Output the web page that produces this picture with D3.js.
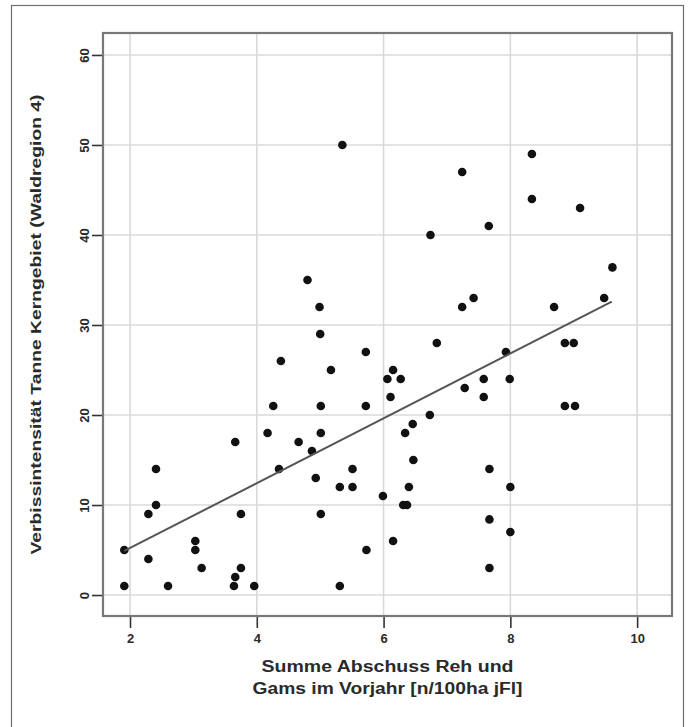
<!DOCTYPE html>
<html>
<head>
<meta charset="utf-8">
<script src="https://cdn.jsdelivr.net/npm/d3@7"></script>
<style>
  body { margin: 0; background: #fff; }
  text { font-family: "Liberation Sans", Arial, sans-serif; font-weight: bold; fill: #2a2a2a; }
</style>
</head>
<body>
<div id="chart"></div>
<script>
// Abschuss (x) und Verbissintensität (y)
var abschuss = [
	4.26, 4.17, 3.66, 4.66, 4.35, 2.41, 2.41, 2.29, 3.75, 1.91,
	3.03, 3.03, 2.29, 3.13, 3.75, 3.66, 1.91, 2.60, 3.64, 3.96,
	5.17, 6.06, 6.27, 6.15, 6.11, 5.72, 5.72, 6.84, 5.01, 6.73,
	6.46, 6.34, 5.01, 4.87, 6.47, 5.51, 4.93, 5.31, 5.51, 6.40,
	5.99, 6.31, 6.37, 5.01, 6.15, 5.73, 5.31, 7.67, 7.67, 7.67,
	7.28, 7.58, 7.58, 7.99, 8.86, 9.02, 8.00, 8.00, 5.35, 6.74,
	4.80, 4.99, 5.00, 4.38, 8.34, 7.24, 8.34, 9.10, 7.66, 9.61,
	9.48, 8.69, 7.42, 7.24, 8.86, 9.00, 7.93
];
var verbiss = [
	21, 18, 17, 17, 14, 14, 10, 9, 9, 5,
	6, 5, 4, 3, 3, 2, 1, 1, 1, 1,
	25, 24, 24, 25, 22, 27, 21, 28, 21, 20,
	19, 18, 18, 16, 15, 14, 13, 12, 12, 12,
	11, 10, 10, 9, 6, 5, 1, 14, 8.4, 3,
	23, 24, 22, 24, 21, 21, 12, 7, 50, 40,
	35, 32, 29, 26, 49, 47, 44, 43, 41, 36.4,
	33, 32, 33, 32, 28, 28, 27
];

// Regressionsgerade (Endpunkte)
var fitX = [1.91, 9.60];
var fitY = [4.9, 32.6];

var xTicks = [2, 4, 6, 8, 10];
var yTicks = [0, 10, 20, 30, 40, 50, 60];

var xTitle = ["Summe Abschuss Reh und", "Gams im Vorjahr [n/100ha jFl]"];
var yTitle = "Verbissintensität Tanne Kerngebiet (Waldregion 4)";

var width = 694,
	height = 727,
	panel = { left: 103, top: 33, right: 672, bottom: 616 };

var svg = d3.select("#chart")
	.append("svg")
	.attr("width", width)
	.attr("height", height);

// äußerer Rahmen
svg.append("rect")
	.attr("x", 11.5)
	.attr("y", 5.5)
	.attr("width", 672)
	.attr("height", 760)
	.style("fill", "none")
	.style("stroke", "#6e6e6e")
	.style("stroke-width", 1.2);

var x = d3.scaleLinear()
	.domain([1.574, 10.55])
	.range([panel.left, panel.right]);

var y = d3.scaleLinear()
	.domain([-2.33, 62.44])
	.range([panel.bottom, panel.top]);

// Gitter
svg.append("g").selectAll("line")
	.data(xTicks)
	.enter().append("line")
	.attr("x1", function (d) { return x(d) })
	.attr("x2", function (d) { return x(d) })
	.attr("y1", panel.top)
	.attr("y2", panel.bottom)
	.style("stroke", "#ddd8d8")
	.style("stroke-width", 1.6);

svg.append("g").selectAll("line")
	.data(yTicks)
	.enter().append("line")
	.attr("x1", panel.left)
	.attr("x2", panel.right)
	.attr("y1", function (d) { return y(d) })
	.attr("y2", function (d) { return y(d) })
	.style("stroke", "#ddd8d8")
	.style("stroke-width", 1.6);

// Achsen
var xAxis = svg.append("g")
	.attr("transform", "translate(0," + panel.bottom + ")")
	.call(d3.axisBottom(x).tickValues(xTicks).tickSize(12).tickPadding(6).tickFormat(d3.format("d")));

var yAxis = svg.append("g")
	.attr("transform", "translate(" + panel.left + ",0)")
	.call(d3.axisLeft(y).tickValues(yTicks).tickSize(11).tickPadding(3).tickFormat(d3.format("d")));

[xAxis, yAxis].forEach(function (a) {
	a.select(".domain").remove();
	a.selectAll(".tick line").style("stroke", "#333").style("stroke-width", 1.6);
	a.selectAll(".tick text").style("font-size", "13px").style("fill", "#2a2a2a");
});

yAxis.selectAll(".tick text")
	.attr("x", null)
	.attr("dy", null)
	.attr("text-anchor", "middle")
	.attr("transform", "translate(-14,0) rotate(-90)");

// Punkte
var punkte = abschuss.map(function (v, i) { return { x: v, y: verbiss[i] } });

svg.append("g").selectAll("circle")
	.data(punkte)
	.enter().append("circle")
	.attr("cx", function (d) { return x(d.x) })
	.attr("cy", function (d) { return y(d.y) })
	.attr("r", 4.3)
	.style("fill", "#111");

// Regressionsgerade
svg.append("path")
	.datum(fitX.map(function (v, i) { return [v, fitY[i]] }))
	.attr("d", d3.line().x(function (d) { return x(d[0]) }).y(function (d) { return y(d[1]) }))
	.style("fill", "none")
	.style("stroke", "#555")
	.style("stroke-width", 2);

// Panelrahmen
svg.append("rect")
	.attr("x", panel.left)
	.attr("y", panel.top)
	.attr("width", panel.right - panel.left)
	.attr("height", panel.bottom - panel.top)
	.style("fill", "none")
	.style("stroke", "#787878")
	.style("stroke-width", 2.2);

// Achsentitel
var cx = (panel.left + panel.right) / 2;
svg.selectAll(".xtitle")
	.data(xTitle)
	.enter().append("text")
	.attr("class", "xtitle")
	.attr("x", cx)
	.attr("y", function (d, i) { return 672 + i * 22 })
	.attr("text-anchor", "middle")
	.attr("textLength", function (d, i) { return i == 0 ? 252 : 270 })
	.attr("lengthAdjust", "spacingAndGlyphs")
	.style("font-size", "16px")
	.text(function (d) { return d });

svg.append("text")
	.attr("transform", "translate(41," + ((panel.top + panel.bottom) / 2) + ") rotate(-90)")
	.attr("text-anchor", "middle")
	.attr("textLength", 460)
	.attr("lengthAdjust", "spacingAndGlyphs")
	.style("font-size", "15px")
	.text(yTitle);
</script>
</body>
</html>
